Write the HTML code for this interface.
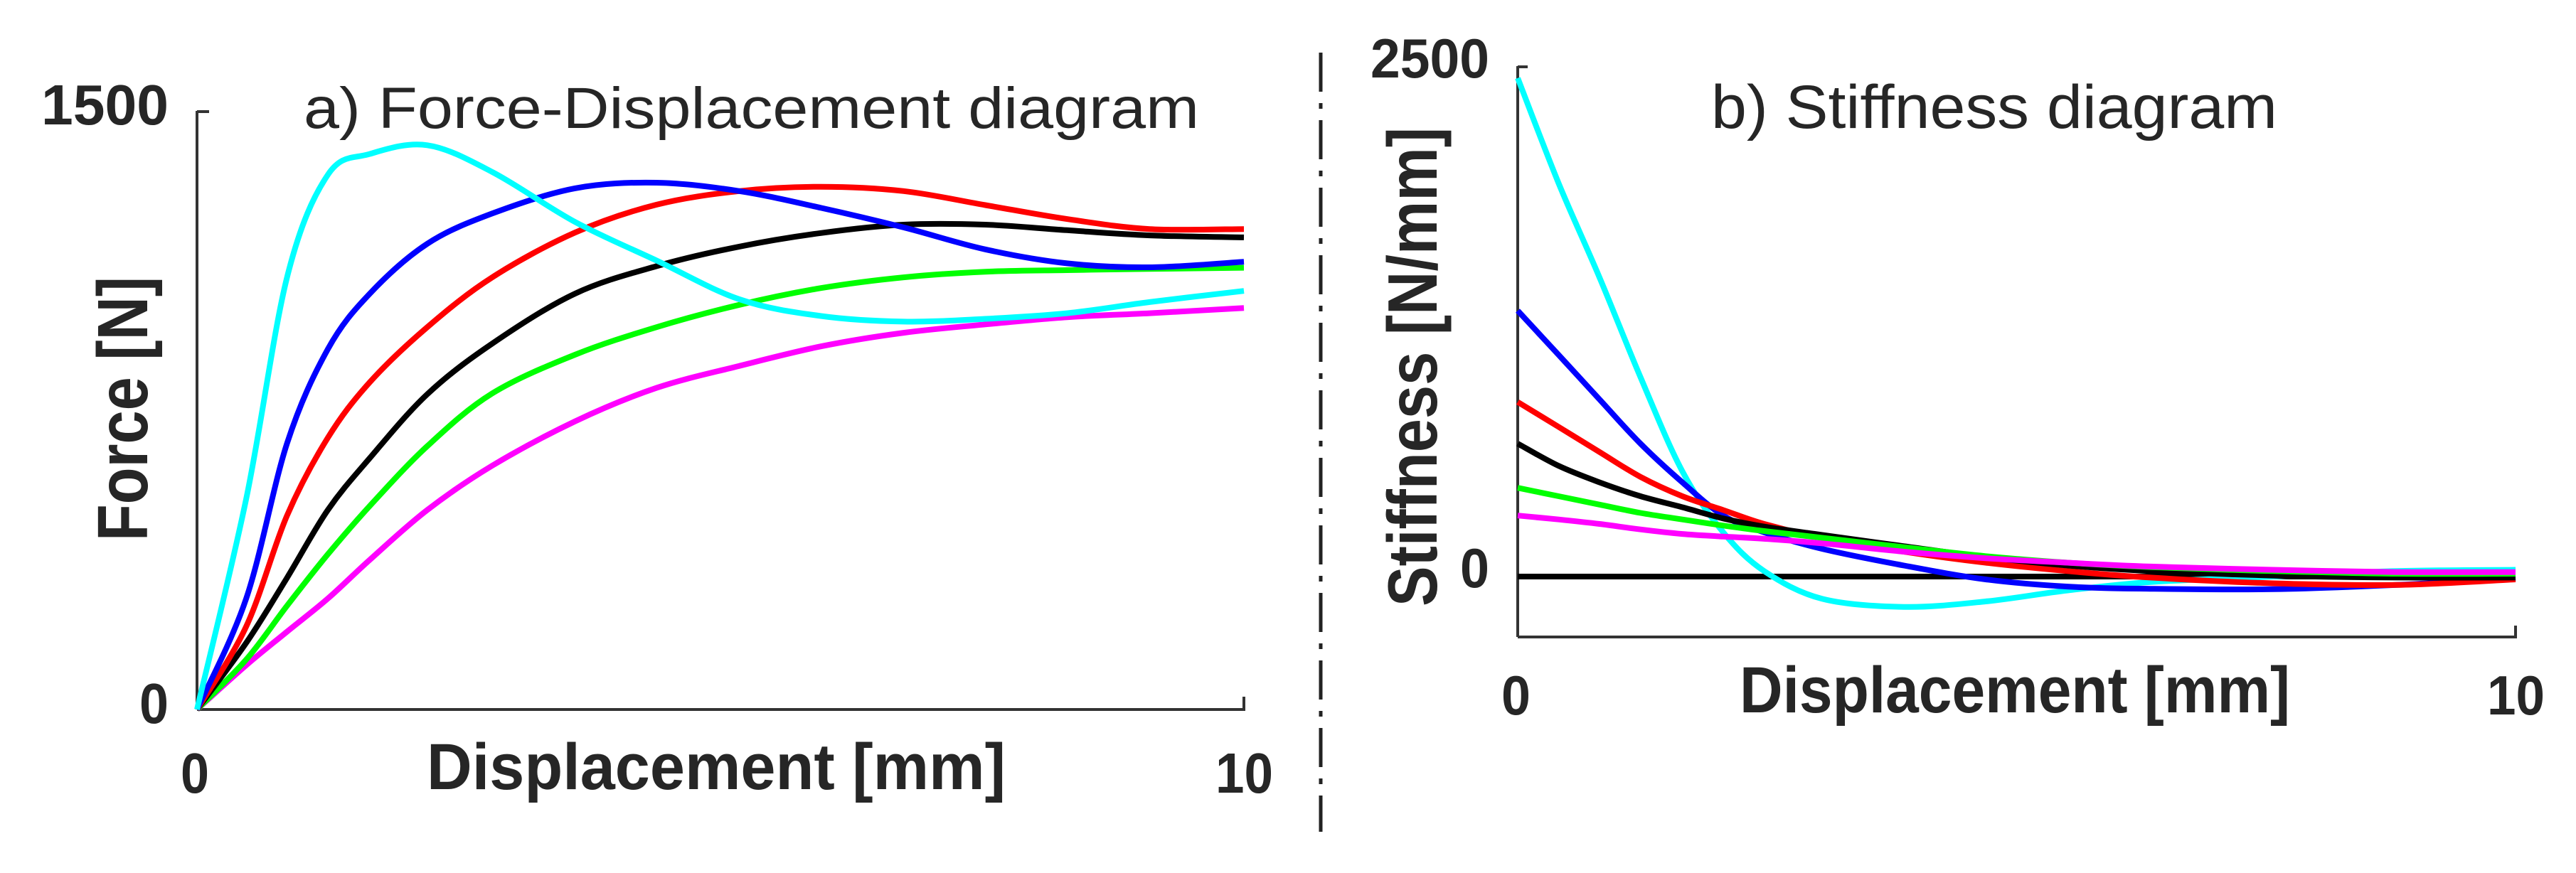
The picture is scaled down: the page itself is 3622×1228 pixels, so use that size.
<!DOCTYPE html>
<html><head><meta charset="utf-8"><style>
html,body{margin:0;padding:0;background:#fff;}
svg{display:block;}
text{font-family:"Liberation Sans",sans-serif;fill:#262626;}
</style></head><body>
<svg id="chart" width="3622" height="1228" viewBox="0 0 3622 1228" xmlns="http://www.w3.org/2000/svg">
<g id="left">
  <line x1="277" y1="156" x2="277" y2="998" stroke="#333" stroke-width="4"/>
  <line x1="277" y1="157" x2="294" y2="157" stroke="#333" stroke-width="4"/>
  <line x1="277" y1="998" x2="1751" y2="998" stroke="#333" stroke-width="4"/>
  <line x1="1749" y1="980" x2="1749" y2="998" stroke="#333" stroke-width="4"/>
  <text x="427" y="180" font-size="82" textLength="1259" lengthAdjust="spacingAndGlyphs">a) Force-Displacement diagram</text>
  <text x="58" y="175" font-size="80" font-weight="bold" textLength="179" lengthAdjust="spacingAndGlyphs">1500</text>
  <text x="196" y="1017" font-size="80" font-weight="bold" textLength="41" lengthAdjust="spacingAndGlyphs">0</text>
  <text x="254" y="1115" font-size="80" font-weight="bold" textLength="40" lengthAdjust="spacingAndGlyphs">0</text>
  <text x="1709" y="1115" font-size="80" font-weight="bold" textLength="81" lengthAdjust="spacingAndGlyphs">10</text>
  <text x="600" y="1110" font-size="92" font-weight="bold" textLength="814" lengthAdjust="spacingAndGlyphs">Displacement [mm]</text>
  <text transform="translate(207,575) rotate(-90)" text-anchor="middle" font-family="DejaVu Sans" font-size="100" font-weight="bold" textLength="372" lengthAdjust="spacingAndGlyphs">Force [N]</text>
  <g id="leftSeries"></g>
</g>
<line x1="1857" y1="74" x2="1857" y2="1170" stroke="#222" stroke-width="5" stroke-dasharray="55 16 8 16"/>
<g id="right">
  <line x1="2134" y1="93" x2="2134" y2="896" stroke="#333" stroke-width="4"/>
  <line x1="2134" y1="94" x2="2148" y2="94" stroke="#333" stroke-width="4"/>
  <line x1="2134" y1="896" x2="3539" y2="896" stroke="#333" stroke-width="4"/>
  <line x1="3537" y1="880" x2="3537" y2="896" stroke="#333" stroke-width="4"/>
  <text x="2406" y="180" font-size="86" textLength="796" lengthAdjust="spacingAndGlyphs">b) Stiffness diagram</text>
  <text x="1927" y="109" font-size="78" font-weight="bold" textLength="167" lengthAdjust="spacingAndGlyphs">2500</text>
  <text x="2053" y="826" font-size="78" font-weight="bold" textLength="41" lengthAdjust="spacingAndGlyphs">0</text>
  <text x="2111" y="1005" font-size="78" font-weight="bold" textLength="41" lengthAdjust="spacingAndGlyphs">0</text>
  <text x="3497" y="1005" font-size="78" font-weight="bold" textLength="81" lengthAdjust="spacingAndGlyphs">10</text>
  <text x="2446" y="1002" font-size="92" font-weight="bold" textLength="774" lengthAdjust="spacingAndGlyphs">Displacement [mm]</text>
  <text transform="translate(2020,516) rotate(-90)" text-anchor="middle" font-family="DejaVu Sans" font-size="98" font-weight="bold" textLength="674" lengthAdjust="spacingAndGlyphs">Stiffness [N/mm]</text>
  <g id="rightSeries"></g>
</g>
</svg>
<script>
// Force-displacement data (mm, N)
const forceX = [0,0.47,0.86,1.25,1.65,2.2,2.82,3.61,4.39,5.18,5.96,6.75,7.53,8.31,9.1,10];
const forceCyan = [0,528,1083,1340,1392,1414,1347,1222,1125,1028,986,972,979,993,1021,1049];
const forceBlue = [0,278,667,903,1042,1167,1243,1306,1320,1299,1257,1208,1153,1118,1108,1122];
const forceRed = [0,208,486,681,820,958,1083,1195,1265,1299,1310,1299,1264,1229,1204,1204];
const forceBlack = [0,167,330,500,630,790,917,1042,1111,1160,1194,1215,1215,1201,1188,1183];
const forceGreen = [0,125,260,389,510,660,792,889,958,1014,1056,1083,1097,1101,1104,1107];
const forceMagenta = [0,111,195,278,375,500,611,722,806,861,910,944,965,983,993,1006];
// Stiffness data (mm, N/mm)
const stiffX = [0,0.41,0.82,1.23,1.65,2.06,2.47,3.05,3.87,4.69,5.51,6.34,7.57,8.81,10];
const stiffCyan = [2445,1929,1467,978,516,217,27,-109,-149,-122,-68,-27,0,27,33];
const stiffBlue = [1304,1087,869,652,462,299,217,136,54,-14,-49,-60,-62,-41,-8];
const stiffRed = [856,734,611,489,394,326,258,190,122,68,27,-5,-33,-41,-14];
const stiffBlack = [652,543,462,394,340,285,245,204,149,95,54,27,5,-5,-5];
const stiffGreen = [435,394,353,312,280,250,223,190,144,100,68,46,27,14,14];
const stiffMagenta = [299,280,258,231,209,196,185,163,122,90,68,49,33,22,22];
const stiffZero = [0,0];
const stiffZeroX = [0,10];

const NS="http://www.w3.org/2000/svg";
const fxS = v => 277 + v/10*(1749-277);
const fyS = v => 998 - v/1500*(998-156);
const sxS = v => 2134 + v/10*(3537-2134);
const syS = v => 811 - v/2500*(811-94);

function pathD(xs, ys, fx, fy){
  const p = xs.map((x,i)=>[fx(x), fy(ys[i])]);
  let d = "M"+p[0][0].toFixed(1)+","+p[0][1].toFixed(1);
  for(let i=0;i<p.length-1;i++){
    const p0=p[Math.max(0,i-1)], p1=p[i], p2=p[i+1], p3=p[Math.min(p.length-1,i+2)];
    const c1=[p1[0]+(p2[0]-p0[0])/6, p1[1]+(p2[1]-p0[1])/6];
    const c2=[p2[0]-(p3[0]-p1[0])/6, p2[1]-(p3[1]-p1[1])/6];
    d+=" C"+c1[0].toFixed(1)+","+c1[1].toFixed(1)+" "+c2[0].toFixed(1)+","+c2[1].toFixed(1)+" "+p2[0].toFixed(1)+","+p2[1].toFixed(1);
  }
  return d;
}
function draw(g, xs, ys, fx, fy, color, name){
  const el=document.createElementNS(NS,"path");
  el.setAttribute("d", pathD(xs, ys, fx, fy));
  el.setAttribute("fill","none");
  el.setAttribute("stroke",color);
  el.setAttribute("stroke-width","8");
  el.setAttribute("stroke-linejoin","round");
  
  
  g.appendChild(el);
}
const gl=document.getElementById("leftSeries");
draw(gl, forceX, forceMagenta, fxS, fyS, "#ff00ff", "force-line-magenta");
draw(gl, forceX, forceGreen, fxS, fyS, "#00ff00", "force-line-green");
draw(gl, forceX, forceBlack, fxS, fyS, "#000000", "force-line-black");
draw(gl, forceX, forceRed, fxS, fyS, "#ff0000", "force-line-red");
draw(gl, forceX, forceBlue, fxS, fyS, "#0000ff", "force-line-blue");
draw(gl, forceX, forceCyan, fxS, fyS, "#00ffff", "force-line-cyan");
const gr=document.getElementById("rightSeries");
draw(gr, stiffZeroX, stiffZero, sxS, syS, "#000000", "stiffness-zero-line");
draw(gr, stiffX, stiffCyan, sxS, syS, "#00ffff", "stiffness-line-cyan");
draw(gr, stiffX, stiffBlue, sxS, syS, "#0000ff", "stiffness-line-blue");
draw(gr, stiffX, stiffRed, sxS, syS, "#ff0000", "stiffness-line-red");
draw(gr, stiffX, stiffBlack, sxS, syS, "#000000", "stiffness-line-black");
draw(gr, stiffX, stiffGreen, sxS, syS, "#00ff00", "stiffness-line-green");
draw(gr, stiffX, stiffMagenta, sxS, syS, "#ff00ff", "stiffness-line-magenta");
</script>
</body></html>
